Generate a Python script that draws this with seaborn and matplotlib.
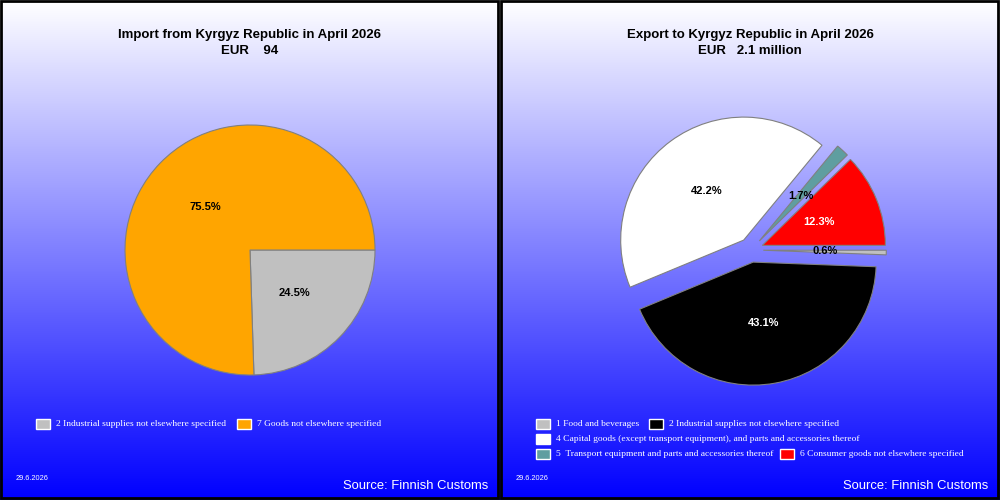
import matplotlib.pyplot as plt
import numpy as np
import seaborn as sns
from matplotlib.patches import Rectangle

# data
import_labels = ['2 Industrial supplies not elsewhere specified',
                 '7 Goods not elsewhere specified']
import_shares = [24.5, 75.5]
import_colors = ['#c0c0c0', '#ffa500']
import_text_colors = ['black', 'black']

export_labels = ['1 Food and beverages',
                 '2 Industrial supplies not elsewhere specified',
                 '4 Capital goods (except transport equipment), and parts and accessories thereof',
                 '5  Transport equipment and parts and accessories thereof',
                 '6 Consumer goods not elsewhere specified']
export_shares = [0.6, 43.1, 42.2, 1.7, 12.3]
export_colors = ['#c0c0c0', '#000000', '#ffffff', '#5f9ea0', '#ff0000']
export_text_colors = ['black', 'white', 'black', 'black', 'white']

titles = ['Import from Kyrgyz Republic in April 2026', 'Export to Kyrgyz Republic in April 2026']
subtitles = ['EUR    94', 'EUR   2.1 million']
date_text = '29.6.2026'
source_text = 'Source: Finnish Customs'

W, H = 1000, 500

sns.set_theme(style='white')
plt.rcParams['font.family'] = ['Liberation Sans', 'DejaVu Sans']

fig = plt.figure(figsize=(10, 5), dpi=100)

# overlay in pixel coordinates for backgrounds, titles and legends
bg = fig.add_axes([0, 0, 1, 1])
bg.axis('off')

grad = np.linspace(0, 1, 256)
img = np.zeros((256, 1, 3))
img[:, 0, 0] = 1 - grad
img[:, 0, 1] = 1 - grad
img[:, 0, 2] = 1
for x0 in (0, 500):
    bg.imshow(img, extent=(x0, x0 + 500, H, 0), aspect='auto', zorder=0)
    bg.add_patch(Rectangle((x0 + 1, 1), 497, 497, fill=False, edgecolor='black', lw=2, zorder=3))
bg.set_xlim(0, W)
bg.set_ylim(H, 0)


def draw_pie(cx, cy, r, shares, colors, text_colors, explode):
    side = 2.5 * r
    ax = fig.add_axes([(cx - side / 2) / W, (H - cy - side / 2) / H, side / W, side / H])
    wedges, texts, autotexts = ax.pie(
        shares, colors=colors, startangle=0, counterclock=False,
        explode=[explode] * len(shares), autopct='%1.1f%%', pctdistance=0.5,
        wedgeprops=dict(edgecolor='#808080', linewidth=0.8),
        textprops=dict(fontsize=8, fontweight='bold'))
    for t, c in zip(autotexts, text_colors):
        t.set_color(c)
    ax.set_xlim(-1.25, 1.25)
    ax.set_ylim(-1.25, 1.25)
    ax.set_aspect('equal')
    return ax


draw_pie(250, 250, 125, import_shares, import_colors, import_text_colors, 0)
draw_pie(751, 250, 123, export_shares, export_colors, export_text_colors, 0.1)


def legend_entry(x, y, color, label):
    bg.add_patch(Rectangle((x, y - 5), 14, 10, facecolor=color, edgecolor='white', lw=1, zorder=2))
    bg.text(x + 20, y, label, color='white', fontsize=6.8, va='center', ha='left',
            family=['Liberation Serif', 'DejaVu Serif'], zorder=2)


# legend layout (pixel positions)
left_pos = [(36, 424), (237, 424)]
right_pos = [(536, 424), (649, 424), (536, 439), (536, 454), (780, 454)]
for (x, y), c, lab in zip(left_pos, import_colors, import_labels):
    legend_entry(x, y, c, lab)
for (x, y), c, lab in zip(right_pos, export_colors, export_labels):
    legend_entry(x, y, c, lab)

for i, x0 in enumerate((0, 500)):
    bg.text(x0 + 250, 35, titles[i], ha='center', va='center', fontsize=9.5, fontweight='bold', color='black')
    bg.text(x0 + 250, 51, subtitles[i], ha='center', va='center', fontsize=9.5, fontweight='bold', color='black')
    bg.text(x0 + 16, 479, date_text, ha='left', va='center', fontsize=5.3, color='white')
    bg.text(x0 + 488, 486, source_text, ha='right', va='center', fontsize=9.4, color='white')

fig.savefig('out.png', dpi=100)
